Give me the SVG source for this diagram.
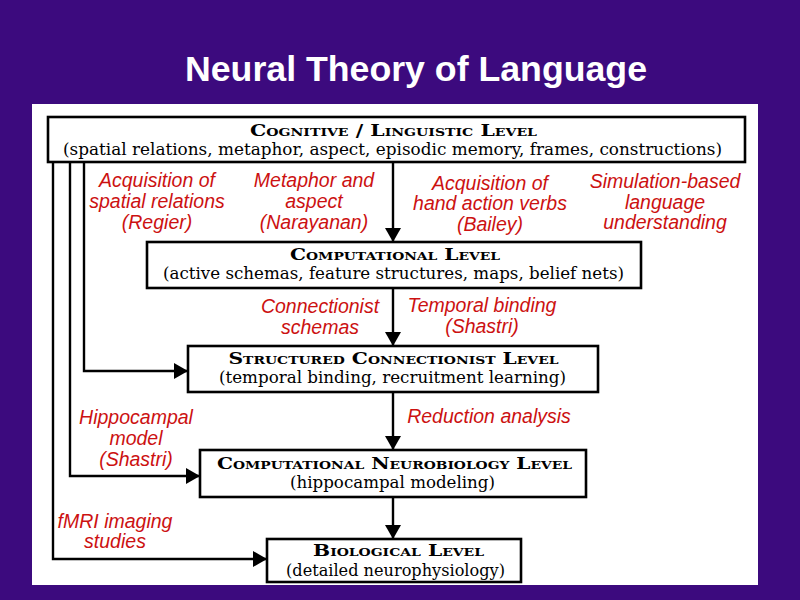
<svg xmlns="http://www.w3.org/2000/svg" width="800" height="600" viewBox="0 0 800 600">
<defs>
<marker id="ah" viewBox="0 0 14 16" refX="14" refY="8" markerWidth="14" markerHeight="16" markerUnits="userSpaceOnUse" orient="auto">
<path d="M0,0 L14,8 L0,16 Z" fill="#000"/>
</marker>
<style>
.box{fill:#fff;stroke:#000;stroke-width:2.6}
.ttl{font-family:"DejaVu Serif","Liberation Serif",serif;font-weight:bold;font-variant:small-caps;font-size:16px;text-anchor:middle;fill:#000}
.sub{font-family:"DejaVu Serif","Liberation Serif",serif;font-size:17px;text-anchor:middle;fill:#000}
.lab{font-family:"Liberation Sans",Arial,sans-serif;font-style:italic;font-size:19.5px;text-anchor:middle;fill:#cc1111}
.con{fill:none;stroke:#000;stroke-width:2.4}
</style>
</defs>
<rect x="0" y="0" width="800" height="600" fill="#3c0a7e"/>
<rect x="32" y="104" width="726" height="481" fill="#fff"/>
<text x="416" y="81" font-family="Liberation Sans,Arial,sans-serif" font-weight="bold" font-size="35" fill="#fff" text-anchor="middle" textLength="462" lengthAdjust="spacingAndGlyphs">Neural Theory of Language</text>

<g id="connectors">
<path class="con" d="M393,162 V242" marker-end="url(#ah)"/>
<path class="con" d="M393,288 V346" marker-end="url(#ah)"/>
<path class="con" d="M393,392 V450" marker-end="url(#ah)"/>
<path class="con" d="M393,497 V539" marker-end="url(#ah)"/>
<path class="con" d="M84,162 V371 H188" marker-end="url(#ah)"/>
<path class="con" d="M70,162 V476 H200" marker-end="url(#ah)"/>
<path class="con" d="M53,162 V559 H267" marker-end="url(#ah)"/>
</g>

<g id="cognitive">
<rect class="box" x="48" y="117" width="697" height="45"/>
<text class="ttl" x="393.5" y="136" textLength="287" lengthAdjust="spacingAndGlyphs">Cognitive / Linguistic Level</text>
<text class="sub" x="392.5" y="155" textLength="659" lengthAdjust="spacingAndGlyphs">(spatial relations, metaphor, aspect, episodic memory, frames, constructions)</text>
</g>
<g id="computational">
<rect class="box" x="147" y="242" width="494" height="46"/>
<text class="ttl" x="395" y="260" textLength="210" lengthAdjust="spacingAndGlyphs">Computational Level</text>
<text class="sub" x="393.5" y="279" textLength="461" lengthAdjust="spacingAndGlyphs">(active schemas, feature structures, maps, belief nets)</text>
</g>
<g id="structured">
<rect class="box" x="188" y="346" width="410" height="46"/>
<text class="ttl" x="393.5" y="364" textLength="330" lengthAdjust="spacingAndGlyphs">Structured Connectionist Level</text>
<text class="sub" x="392.5" y="383" textLength="347" lengthAdjust="spacingAndGlyphs">(temporal binding, recruitment learning)</text>
</g>
<g id="neurobiology">
<rect class="box" x="200" y="450" width="386" height="47"/>
<text class="ttl" x="394.5" y="469" textLength="355" lengthAdjust="spacingAndGlyphs">Computational Neurobiology Level</text>
<text class="sub" x="392.5" y="488" textLength="205" lengthAdjust="spacingAndGlyphs">(hippocampal modeling)</text>
</g>
<g id="biological">
<rect class="box" x="267" y="539" width="254" height="43"/>
<text class="ttl" x="398.5" y="555.5" textLength="171" lengthAdjust="spacingAndGlyphs">Biological Level</text>
<text class="sub" x="395.5" y="576" font-size="16" textLength="219" lengthAdjust="spacingAndGlyphs">(detailed neurophysiology)</text>
</g>

<g id="labels">
<text class="lab" x="157" y="187">Acquisition of</text>
<text class="lab" x="157" y="208">spatial relations</text>
<text class="lab" x="157" y="229">(Regier)</text>
<text class="lab" x="314" y="187">Metaphor and</text>
<text class="lab" x="314" y="208">aspect</text>
<text class="lab" x="314" y="229">(Narayanan)</text>
<text class="lab" x="490" y="190">Acquisition of</text>
<text class="lab" x="490" y="210">hand action verbs</text>
<text class="lab" x="490" y="231">(Bailey)</text>
<text class="lab" x="665" y="188">Simulation-based</text>
<text class="lab" x="665" y="209">language</text>
<text class="lab" x="665" y="229">understanding</text>
<text class="lab" x="320" y="313">Connectionist</text>
<text class="lab" x="320" y="334">schemas</text>
<text class="lab" x="482" y="312">Temporal binding</text>
<text class="lab" x="482" y="333">(Shastri)</text>
<text class="lab" x="136" y="424">Hippocampal</text>
<text class="lab" x="136" y="445">model</text>
<text class="lab" x="136" y="466">(Shastri)</text>
<text class="lab" x="489" y="423">Reduction analysis</text>
<text class="lab" x="115" y="528">fMRI imaging</text>
<text class="lab" x="115" y="548">studies</text>
</g>
</svg>
